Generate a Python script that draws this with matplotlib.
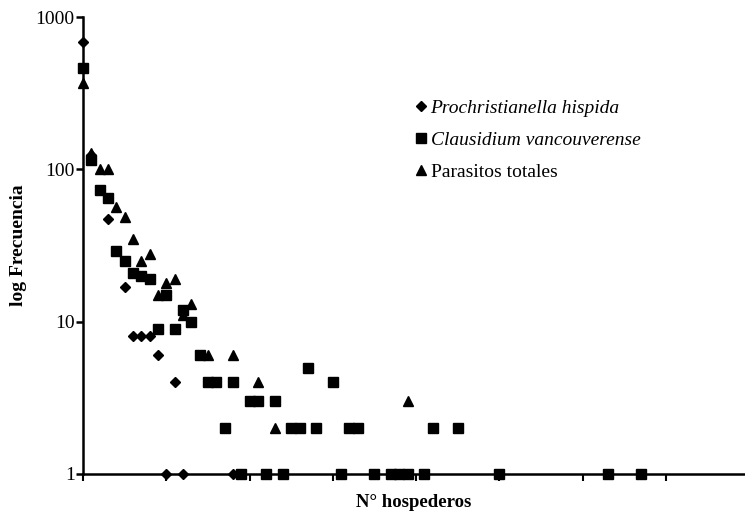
import matplotlib
matplotlib.use("Agg")
import matplotlib.pyplot as plt

plt.rcParams['font.family'] = ['Liberation Serif', 'DejaVu Serif']

# P. hispida (diamonds)
ph_x = [0, 1, 3, 5, 6, 7, 8, 9, 11, 10, 12, 18]
ph_y = [690, 125, 47, 17, 8, 8, 8, 6, 4, 1, 1, 1]

# C. vancouverense (squares)
cv_x = [0, 1, 2, 3, 4, 5, 6, 7, 8, 9, 10, 11, 12, 13, 14, 15, 16, 17, 18,
        19, 20, 21, 22, 23, 24, 25, 26, 27, 28, 30, 31, 32, 33, 35, 37, 38,
        39, 41, 42, 45, 50, 63, 67]
cv_y = [460, 115, 73, 65, 29, 25, 21, 20, 19, 9, 15, 9, 12, 10, 6, 4, 4, 2, 4,
        1, 3, 3, 1, 3, 1, 2, 2, 5, 2, 4, 1, 2, 2, 1, 1, 1,
        1, 1, 2, 2, 1, 1, 1]

# parasitos totales (triangles)
pt_x = [0, 1, 2, 3, 4, 5, 6, 7, 8, 9, 10, 11, 12, 13, 15, 18, 21, 23, 39]
pt_y = [366, 128, 100, 100, 57, 49, 35, 25, 28, 15, 18, 19, 11, 13, 6, 6, 4, 2, 3]

fig = plt.figure(figsize=(7.45, 5.13), dpi=100)
ax = fig.add_axes([83/745, 39/513, 662/745, 457/513])

ax.plot(pt_x, pt_y, '^', color='black', ms=7.5, clip_on=False, zorder=3,
        label='Parasitos totales')
ax.plot(cv_x, cv_y, 's', color='black', ms=7, clip_on=False, zorder=4,
        label='Clausidium vancouverense')
ax.plot(ph_x, ph_y, 'D', color='black', ms=5, clip_on=False, zorder=5,
        label='Prochristianella hispida')

ax.set_yscale('log')
ax.set_ylim(1, 1000)
ax.set_xlim(0, 79.5)
ax.set_yticks([1, 10, 100, 1000])
ax.set_yticklabels(['1', '10', '100', '1000'])
ax.minorticks_off()
ax.set_xticks(range(0, 80, 10))
ax.set_xticklabels([])

for s in ['top', 'right']:
    ax.spines[s].set_visible(False)
for s in ['left', 'bottom']:
    ax.spines[s].set_linewidth(1.8)
ax.tick_params(axis='y', direction='out', length=5, width=1.8, pad=1, labelsize=14)
ax.tick_params(axis='x', direction='out', length=5, width=1.5)

ax.set_ylabel('log Frecuencia', fontsize=14, fontweight='bold')
ax.yaxis.set_label_coords(-0.085, 0.5)
ax.set_xlabel('N° hospederos', fontsize=13.5, fontweight='bold')
ax.xaxis.set_label_coords(0.5, -0.043)

h, l = ax.get_legend_handles_labels()
leg = ax.legend(h[::-1], l[::-1], loc='upper left', bbox_to_anchor=(415/745, 1 - 99/513),
                bbox_transform=fig.transFigure, frameon=False, fontsize=14,
                handlelength=0.6, handletextpad=0.2, labelspacing=0.75, borderpad=0,
                borderaxespad=0)
leg.get_texts()[0].set_style('italic')
leg.get_texts()[1].set_style('italic')

fig.savefig('out.png', dpi=100)
